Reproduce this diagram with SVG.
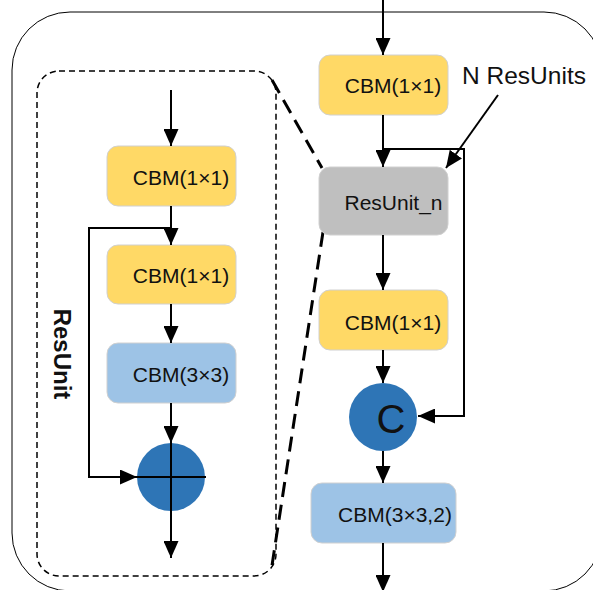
<svg xmlns="http://www.w3.org/2000/svg" width="593" height="590" viewBox="0 0 593 590">
<defs>
<marker id="ah" markerUnits="userSpaceOnUse" markerWidth="17" markerHeight="15" refX="17" refY="7.5" orient="auto">
<path d="M0,0 L17,7.5 L0,15 z" fill="#000"/>
</marker>
<style>
.box{stroke:#D0D0D0;stroke-width:1}
.y{fill:#FFD966}
.b{fill:#9DC3E6}
.g{fill:#BFBFBF}
.t{font-family:"Liberation Sans",Arial,sans-serif;font-size:21px;fill:#111;text-anchor:middle}
.c{stroke:#000;stroke-width:2;fill:none}
.a{marker-end:url(#ah)}
</style>
</defs>
<rect id="outer" x="12" y="12" width="590" height="579" rx="58" ry="58" fill="none" stroke="#000" stroke-width="1"/>
<g id="resunit-frame">
<rect x="37" y="71" width="239" height="505" rx="22" ry="22" fill="none" stroke="#000" stroke-width="1.5" stroke-dasharray="6 4"/>
<text x="62.5" y="354" transform="rotate(90 62.5 354)" style="font-family:'Liberation Sans',Arial,sans-serif;font-size:24px;font-weight:bold;fill:#111;text-anchor:middle;dominant-baseline:central">ResUnit</text>
</g>
<g id="zoom-lines" stroke="#000" stroke-width="3" stroke-dasharray="15 8" fill="none">
<line x1="272" y1="80" x2="322" y2="168"/>
<line x1="323" y1="232" x2="271" y2="572"/>
</g>
<g id="l1"><rect class="box y" x="107" y="146" width="129" height="60" rx="11"/><text class="t" x="181" y="185">CBM(1×1)</text></g>
<g id="l2"><rect class="box y" x="107" y="245" width="129" height="59" rx="11"/><text class="t" x="181" y="283">CBM(1×1)</text></g>
<g id="l3"><rect class="box b" x="107" y="343" width="129" height="60" rx="11"/><text class="t" x="181" y="382">CBM(3×3)</text></g>
<g id="ladd"><circle cx="171" cy="477" r="34" fill="#2E75B6"/></g>
<g id="r1"><rect class="box y" x="319" y="55" width="129" height="60" rx="11"/><text class="t" x="393" y="93">CBM(1×1)</text></g>
<g id="r2"><rect class="box g" x="319" y="167" width="129" height="68" rx="11"/><text class="t" x="393.5" y="210">ResUnit_n</text></g>
<g id="r3"><rect class="box y" x="319" y="290" width="129" height="60" rx="11"/><text class="t" x="393" y="330">CBM(1×1)</text></g>
<g id="rcat"><circle cx="383" cy="417" r="34" fill="#2E75B6"/><text x="391" y="433" style="font-family:'Liberation Sans',Arial,sans-serif;font-size:40px;fill:#111;text-anchor:middle">C</text></g>
<g id="r4"><rect class="box b" x="311" y="483" width="145" height="60" rx="11"/><text class="t" x="395" y="522">CBM(3×3,2)</text></g>
<g id="label"><text x="524" y="84" style="font-family:'Liberation Sans',Arial,sans-serif;font-size:24.5px;fill:#111;text-anchor:middle">N ResUnits</text></g>
<g id="connectors">
<path class="c a" d="M171,90 V146"/>
<path class="c a" d="M171,206 V245"/>
<path class="c a" d="M171,228 H89 V477 H137"/>
<path class="c a" d="M171,304 V343"/>
<path class="c a" d="M171,403 V443"/>
<path class="c" d="M137,477 H206"/>
<path class="c a" d="M171,443 V558"/>
<path class="c a" d="M383,0 V55"/>
<path class="c a" d="M383,115 V167"/>
<path class="c a" d="M383,149 H464 V416 H418"/>
<path class="c a" d="M498,95 L446,168"/>
<path class="c a" d="M383,235 V290"/>
<path class="c a" d="M383,350 V383"/>
<path class="c a" d="M383,451 V483"/>
<path class="c a" d="M383,543 V592"/>
</g>
</svg>
